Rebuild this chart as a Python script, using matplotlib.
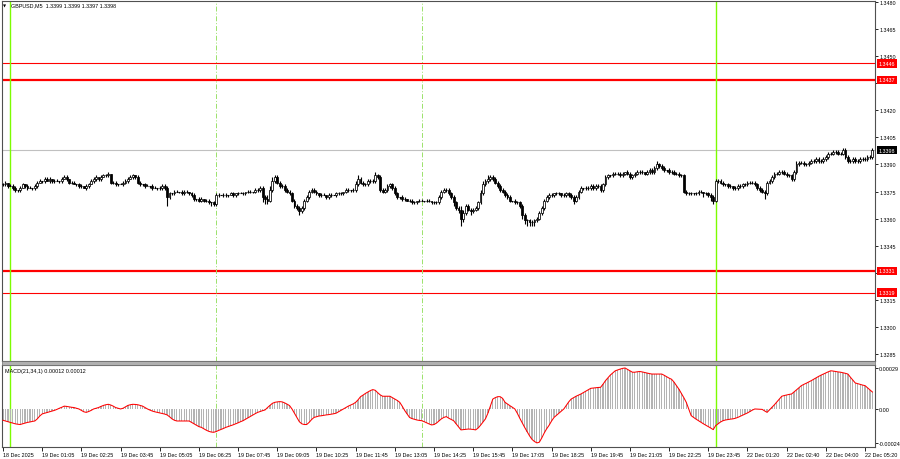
import matplotlib
matplotlib.use('Agg')
import matplotlib.pyplot as plt
import numpy as np
from matplotlib import font_manager as fm
from matplotlib.transforms import blended_transform_factory
from matplotlib.patches import Rectangle

# ---------------- data ----------------
symbol_title = "GBPUSD,M5  1.3399 1.3399 1.3397 1.3398"
macd_title = "MACD(21,34,1) 0.00012 0.00012"
price_base = 1.3300
pip = 0.0001
first_open_pips = 79

closes_pips = [
    79, 80, 78, 78, 77, 76, 76, 77, 79, 78,
    77, 77, 77, 78, 80, 81, 81, 82, 81, 82,
    81, 81, 81, 81, 82, 83, 82, 80, 80, 79,
    79, 78, 78, 77, 78, 79, 81, 82, 83, 82,
    83, 84, 84, 85, 80, 80, 79, 79, 79, 80,
    81, 82, 83, 84, 83, 80, 79, 79, 78, 78,
    78, 77, 77, 77, 77, 78, 77, 72, 74, 74,
    75, 75, 75, 74, 75, 75, 74, 73, 71, 71,
    70, 71, 70, 70, 69, 69, 68, 73, 73, 73,
    73, 73, 73, 74, 73, 74, 74, 74, 74, 75,
    75, 75, 75, 76, 76, 77, 72, 71, 70, 76,
    81, 83, 80, 78, 78, 76, 75, 74, 70, 67,
    66, 64, 66, 70, 72, 75, 76, 75, 74, 73,
    73, 73, 72, 73, 73, 73, 74, 74, 74, 75,
    76, 76, 76, 76, 79, 82, 80, 79, 79, 81,
    81, 81, 84, 83, 76, 75, 76, 78, 79, 77,
    74, 72, 72, 71, 71, 70, 70, 69, 69, 70,
    70, 70, 70, 70, 70, 69, 69, 69, 72, 75,
    76, 76, 74, 72, 69, 66, 65, 60, 63, 67,
    65, 64, 65, 66, 69, 74, 79, 81, 82, 83,
    82, 80, 78, 76, 75, 73, 72, 70, 70, 69,
    69, 67, 62, 59, 59, 58, 58, 59, 60, 63,
    66, 70, 72, 73, 73, 74, 74, 74, 73, 73,
    74, 73, 72, 70, 72, 75, 77, 77, 77, 77,
    78, 77, 78, 78, 76, 79, 83, 84, 84, 85,
    85, 85, 84, 85, 86, 85, 83, 84, 85, 86,
    86, 86, 85, 86, 87, 86, 88, 90, 89, 88,
    87, 87, 86, 86, 85, 85, 84, 84, 75, 74,
    74, 74, 74, 74, 75, 75, 74, 74, 73, 72,
    70, 81, 81, 80, 79, 79, 78, 78, 77, 77,
    78, 78, 79, 79, 80, 80, 80, 79, 77, 76,
    75, 74, 80, 81, 83, 85, 85, 86, 86, 85,
    84, 84, 82, 86, 90, 91, 91, 90, 90, 91,
    92, 92, 93, 92, 92, 93, 94, 96, 96, 97,
    97, 96, 96, 98, 94, 92, 92, 93, 92, 92,
    93, 93, 93, 94, 94, 98,
]

up_wick_pips = [
    1,1,0,1,1,1,0,1,1,0,1,1,0,1,1,1,0,1,1,1,
    0,1,1,0,1,1,1,0,1,1,0,1,1,0,1,1,1,1,1,0,
    1,1,1,1,0,1,1,0,1,1,1,1,1,1,0,1,1,0,1,1,
    0,1,1,0,1,1,1,1,1,0,1,1,0,1,1,1,0,1,1,0,
    1,1,0,1,1,0,1,1,1,0,1,1,0,1,1,0,1,1,1,0,
    1,1,0,1,1,1,1,1,2,2,2,1,1,1,1,1,1,1,1,1,
    1,1,1,1,1,1,1,1,1,0,1,1,0,1,1,0,1,1,1,0,
    1,1,0,1,2,2,1,1,1,1,1,1,2,1,1,1,1,1,1,1,
    1,1,0,1,1,0,1,1,1,0,1,1,0,1,1,0,1,1,1,1,
    1,1,1,1,1,1,1,2,2,1,1,1,1,1,1,2,2,1,2,1,
    1,1,1,1,1,1,1,1,0,1,1,1,1,1,1,1,1,1,1,1,
    1,1,1,1,1,0,1,1,0,1,1,1,1,1,1,1,1,0,1,1,
    1,1,1,1,1,1,1,1,0,1,1,1,1,1,0,1,1,1,1,1,
    1,1,0,1,1,1,1,2,1,1,1,0,1,1,1,1,1,1,1,1,
    1,1,0,1,1,1,0,1,1,1,1,1,1,1,1,0,1,1,0,1,
    1,1,1,1,1,1,1,1,1,1,1,1,1,1,1,1,1,1,1,1,
    1,1,1,1,2,1,1,1,1,1,1,1,1,1,1,1,1,1,1,1,
    1,1,1,1,1,1,1,1,1,1,1,1,1,1,1,1,
]

lo_wick_pips = [
    1,1,1,0,1,1,1,1,0,1,1,0,1,1,1,0,1,1,0,1,
    1,1,0,1,1,0,1,1,1,0,1,1,1,0,1,1,0,1,1,1,
    1,0,1,1,1,1,1,1,0,1,1,1,0,1,1,1,1,1,1,0,
    1,1,0,1,1,1,1,5,1,1,1,0,1,1,1,1,1,1,1,1,
    1,1,1,1,1,2,1,1,1,0,1,1,1,0,1,1,1,0,1,1,
    1,1,1,1,1,1,3,3,2,1,1,1,1,1,1,1,1,1,1,1,
    1,2,1,1,1,1,1,1,1,1,1,0,1,1,1,0,1,1,1,1,
    1,1,1,1,1,1,1,1,1,1,1,1,1,1,1,1,1,1,1,1,
    1,1,1,1,1,0,1,1,1,1,1,0,1,1,1,1,1,1,1,1,
    1,1,1,1,2,1,2,4,2,1,1,2,1,1,1,1,1,1,1,1,
    1,1,1,1,1,1,1,1,1,1,1,1,2,2,3,2,2,2,1,1,
    1,1,1,1,1,1,1,1,1,1,1,1,1,2,1,1,1,1,1,1,
    1,1,1,1,1,1,1,1,1,1,1,1,1,1,1,1,1,1,1,1,
    1,1,1,1,1,1,1,1,1,1,1,1,1,1,1,1,1,1,1,1,
    1,1,1,1,1,1,2,1,1,2,2,1,1,1,1,1,1,1,1,1,
    1,1,1,1,1,1,1,1,1,1,1,3,1,1,1,1,1,1,1,1,
    1,1,1,1,1,1,1,1,1,1,1,1,1,1,1,1,1,1,1,1,
    1,1,1,1,1,1,1,1,1,1,1,1,1,1,1,1,
]

# MACD main value in units of 0.00001 (signal SMA(1) equals it)
macd_e5 = [
    -8, -8.5, -9, -9.5, -10, -10.5, -10.8, -11, -10.5, -10,
    -9.5, -9.2, -8.8, -8.5, -7, -5, -3.5, -3, -2.5, -2,
    -1.5, -1, -0.3, 0.5, 1.2, 2, 1.8, 1.5, 1.2, 1,
    0.5, 0, -1, -2, -2.4, -1.8, -1, 0, 0.5, 1,
    1.8, 2.5, 3, 3.3, 2.8, 2, 1, 0.5, 0, 0.5,
    1.5, 2.5, 3, 3.3, 3.2, 3, 2.5, 2, 1, 0,
    -0.8, -1.5, -2, -2.4, -2.8, -3.2, -3.6, -4.2, -5.5, -7,
    -8, -8.5, -8.5, -8.5, -8.5, -8.5, -8.5, -9.5, -10.5, -11.5,
    -12.5, -13, -14, -15, -15.8, -16.3, -16.5, -16, -15.2, -14.5,
    -13.8, -13, -12.4, -11.8, -11.2, -10.5, -9.8, -9, -8.3, -7.3,
    -6.3, -5.3, -4.3, -3.3, -2.4, -1.8, -1.2, -0.7, 1, 2.5,
    4, 4.7, 5, 5.2, 5, 4.3, 3.4, 2.4, 0, -3,
    -6, -9, -10.5, -11, -11, -9.5, -7.5, -6, -5.5, -5,
    -4.8, -4.5, -4.2, -4, -3.7, -3.4, -3, -2, -1, 0,
    1, 2, 2.8, 3.6, 4.7, 6.5, 8.7, 9.8, 11, 12,
    13, 13.7, 13.2, 11.5, 10, 9, 9, 9, 9, 8,
    7, 6, 4.7, 2, -1, -3.5, -6, -6.8, -7.3, -7.8,
    -8.1, -8.3, -9, -9.8, -10.6, -11.3, -11, -10, -8.5, -7,
    -6, -5.4, -6.5, -7.4, -8.3, -10.5, -12.8, -14.8, -14.6, -14.4,
    -14.2, -14.3, -14.5, -14.8, -13.5, -11.5, -9.2, -7, -3, 2,
    7, 8, 8.7, 8.7, 7.5, 4.7, 3.5, 2.3, 1.2, 0,
    -3, -6.5, -9.8, -13, -16, -19, -21.5, -23, -24, -23.5,
    -20.5, -17, -14, -11.5, -8.5, -6, -4.5, -3, -1.5, 0,
    2.5, 5, 7, 8, 9, 9.8, 10.6, 11.6, 12.6, 13.6,
    14.6, 14.8, 15, 15.2, 15.3, 17.5, 20, 22, 24, 25.5,
    27, 27.6, 28.2, 28.7, 29, 28, 27, 26, 26, 26.3,
    26.5, 26.2, 25.8, 25.4, 25, 24.7, 24.7, 24.7, 24.7, 24.7,
    23.8, 22.8, 21.8, 21, 19, 16.5, 14, 11, 8, 4.7,
    0, -4.7, -6, -7.2, -8.3, -9.4, -10.5, -11.5, -12.5, -13.5,
    -14.6, -11.8, -10.5, -9.2, -8.3, -7.8, -7.5, -7.2, -7, -6.6,
    -6, -5.2, -4.4, -3.6, -2.8, -1.8, -0.8, 0, -0.1, -0.2,
    -0.3, -1.4, -2.4, -0.6, 1.2, 3, 5, 7, 9, 9.5,
    9.9, 10.3, 10.6, 12, 13.5, 15, 16.5, 17.4, 18.2, 19.1,
    20, 21, 22, 23, 23.9, 24.7, 25.5, 26.3, 27, 26.8,
    26.5, 26.2, 26, 25.6, 25.2, 24.7, 22.5, 20.5, 18.4, 17.9,
    17.4, 16.9, 16.5, 15, 13.5, 12,
]

time_labels = [
    "18 Dec 2025", "19 Dec 01:05", "19 Dec 02:25", "19 Dec 03:45",
    "19 Dec 05:05", "19 Dec 06:25", "19 Dec 07:45", "19 Dec 09:05",
    "19 Dec 10:25", "19 Dec 11:45", "19 Dec 13:05", "19 Dec 14:25",
    "19 Dec 15:45", "19 Dec 17:05", "19 Dec 18:25", "19 Dec 19:45",
    "19 Dec 21:05", "19 Dec 22:25", "19 Dec 23:45", "22 Dec 01:20",
    "22 Dec 02:40", "22 Dec 04:00", "22 Dec 05:20",
]
label_step_bars = 16

price_ticks = [1.3480, 1.3465, 1.3450, 1.3435, 1.3420, 1.3405, 1.3390,
               1.3375, 1.3360, 1.3345, 1.3330, 1.3315, 1.3300, 1.3285]
hidden_tick_labels = [1.3435, 1.3330]   # covered by the level boxes
levels = [1.3446, 1.3437, 1.3331, 1.3319]
current_price = 1.3398
macd_ticks_e5 = [29, 0, -24]
macd_tick_labels = ["0.00029", "0.00", "-0.00024"]

day_sep_bars = [3, 291]
session_bars = [87, 171]

# --------------- checks ---------------
n = len(closes_pips)
assert len(up_wick_pips) == n, len(up_wick_pips)
assert len(lo_wick_pips) == n, len(lo_wick_pips)
assert len(macd_e5) == n, len(macd_e5)

# --------------- fonts ----------------
try:
    fm.findfont(fm.FontProperties(family='Liberation Sans Narrow'), fallback_to_default=False)
    FONT = ['Liberation Sans Narrow', 'DejaVu Sans']
    FS = 4.6
except Exception:
    FONT = ['Liberation Sans', 'DejaVu Sans']
    FS = 3.9
plt.rcParams['font.family'] = FONT
plt.rcParams['font.size'] = FS

# --------------- figure ----------------
W, H = 900, 460
fig = plt.figure(figsize=(W / 100, H / 100), dpi=100)
fig.patch.set_facecolor('white')


def fy(py):
    return 1 - py / H


ax = fig.add_axes([2 / W, fy(362), 873 / W, 360 / H])
ax2 = fig.add_axes([2 / W, fy(448), 873 / W, 82 / H])

px_per_bar = 2.449
x_left = -1.0 / px_per_bar
x_right = x_left + 873 / px_per_bar

x = np.arange(n)
c = price_base + np.array(closes_pips, dtype=float) * pip
o = np.concatenate([[price_base + first_open_pips * pip], c[:-1]])
hi = np.maximum(o, c) + np.array(up_wick_pips) * pip
lo = np.minimum(o, c) - np.array(lo_wick_pips) * pip

# horizontal levels
level_lw = [0.8, 1.6, 1.6, 0.8]
for lv, lw in zip(levels, level_lw):
    ax.axhline(lv, color='#ff0000', lw=lw, zorder=1)
ax.axhline(current_price, color='#c0c0c0', lw=0.8, zorder=1)

# vertical separators
for axx in (ax, ax2):
    for b in day_sep_bars:
        axx.axvline(b, color='#7cfc00', lw=1.0, zorder=1)
    for b in session_bars:
        axx.axvline(b, color='#9be26b', lw=0.7, ls=(0, (5, 2, 1, 2)), zorder=1)

# candles
ax.vlines(x, lo, hi, color='black', lw=0.8, zorder=3)
bull = c > o
bear = c < o
doji = c == o
body_b = np.minimum(o, c)
body_h = np.abs(c - o)
ax.bar(x[bull], body_h[bull], bottom=body_b[bull], width=0.75,
       facecolor='white', edgecolor='black', linewidth=0.55, zorder=4)
ax.bar(x[bear], body_h[bear], bottom=body_b[bear], width=0.75,
       facecolor='black', edgecolor='black', linewidth=0.55, zorder=4)
ax.hlines(c[doji], x[doji] - 0.4, x[doji] + 0.4, color='black', lw=0.8, zorder=4)

ax.set_xlim(x_left, x_right)
ax.set_ylim(1.32811, 1.34806)
ax.set_xticks([])
ax.yaxis.tick_right()
ax.set_yticks(price_ticks)
ax.set_yticklabels(["" if t in hidden_tick_labels else f"{t:.4f}" for t in price_ticks])
ax.tick_params(axis='y', direction='out', length=2, width=0.6, pad=1.0,
               labelsize=FS, colors='black')

for s in ax.spines.values():
    s.set_color('#505050')
    s.set_linewidth(0.8)

# right-hand price boxes
tr = blended_transform_factory(ax.transAxes, ax.transData)
for lv in levels:
    ax.text(1.0 + 3.5 / 873, lv, f"{lv:.4f}", transform=tr, ha='left', va='center',
            color='white', fontsize=FS, zorder=10, clip_on=False,
            bbox=dict(boxstyle='square,pad=0.3', fc='#ff0000', ec='none'))
ax.text(1.0 + 3.5 / 873, current_price, f"{current_price:.4f}", transform=tr,
        ha='left', va='center', color='white', fontsize=FS, zorder=10, clip_on=False,
        bbox=dict(boxstyle='square,pad=0.3', fc='black', ec='none'))

# --------------- MACD ----------------
m = np.array(macd_e5, dtype=float)
ax2.bar(x, m, width=0.5, color='#b4b4b4', linewidth=0, zorder=2)
ax2.plot(x, m, color='#ff0000', lw=0.75, zorder=3)
ax2.set_xlim(x_left, x_right)
ax2.set_ylim(-26.9, 31.1)
ax2.yaxis.tick_right()
ax2.set_yticks(macd_ticks_e5)
ax2.set_yticklabels(macd_tick_labels)
ax2.tick_params(axis='y', direction='out', length=2, width=0.6, pad=0.8,
                labelsize=FS, colors='black')
tick_pos = [i * label_step_bars for i in range(len(time_labels))]
ax2.set_xticks(tick_pos)
ax2.set_xticklabels(time_labels, ha='left')
ax2.tick_params(axis='x', direction='out', length=3, width=0.6, pad=0.8,
                labelsize=FS, colors='black')
for s in ax2.spines.values():
    s.set_color('#505050')
    s.set_linewidth(0.8)

# separator band between panels
fig.patches.append(Rectangle((2 / W, fy(366)), 873 / W, 4 / H, transform=fig.transFigure,
                             facecolor='#b0b0b0', edgecolor='#707070', lw=0.5))

# titles
fig.text(3 / W, fy(6), "\u25bc", fontsize=FS - 1, color='black',
         family=['DejaVu Sans'], va='center', ha='left')
fig.text(11 / W, fy(6), symbol_title, fontsize=FS, color='black', va='center', ha='left')
ax2.text(3 / 873, 1 - 5 / 82, macd_title, transform=ax2.transAxes, fontsize=FS,
         color='black', va='center', ha='left')

fig.savefig('out.png', dpi=100, facecolor='white')
